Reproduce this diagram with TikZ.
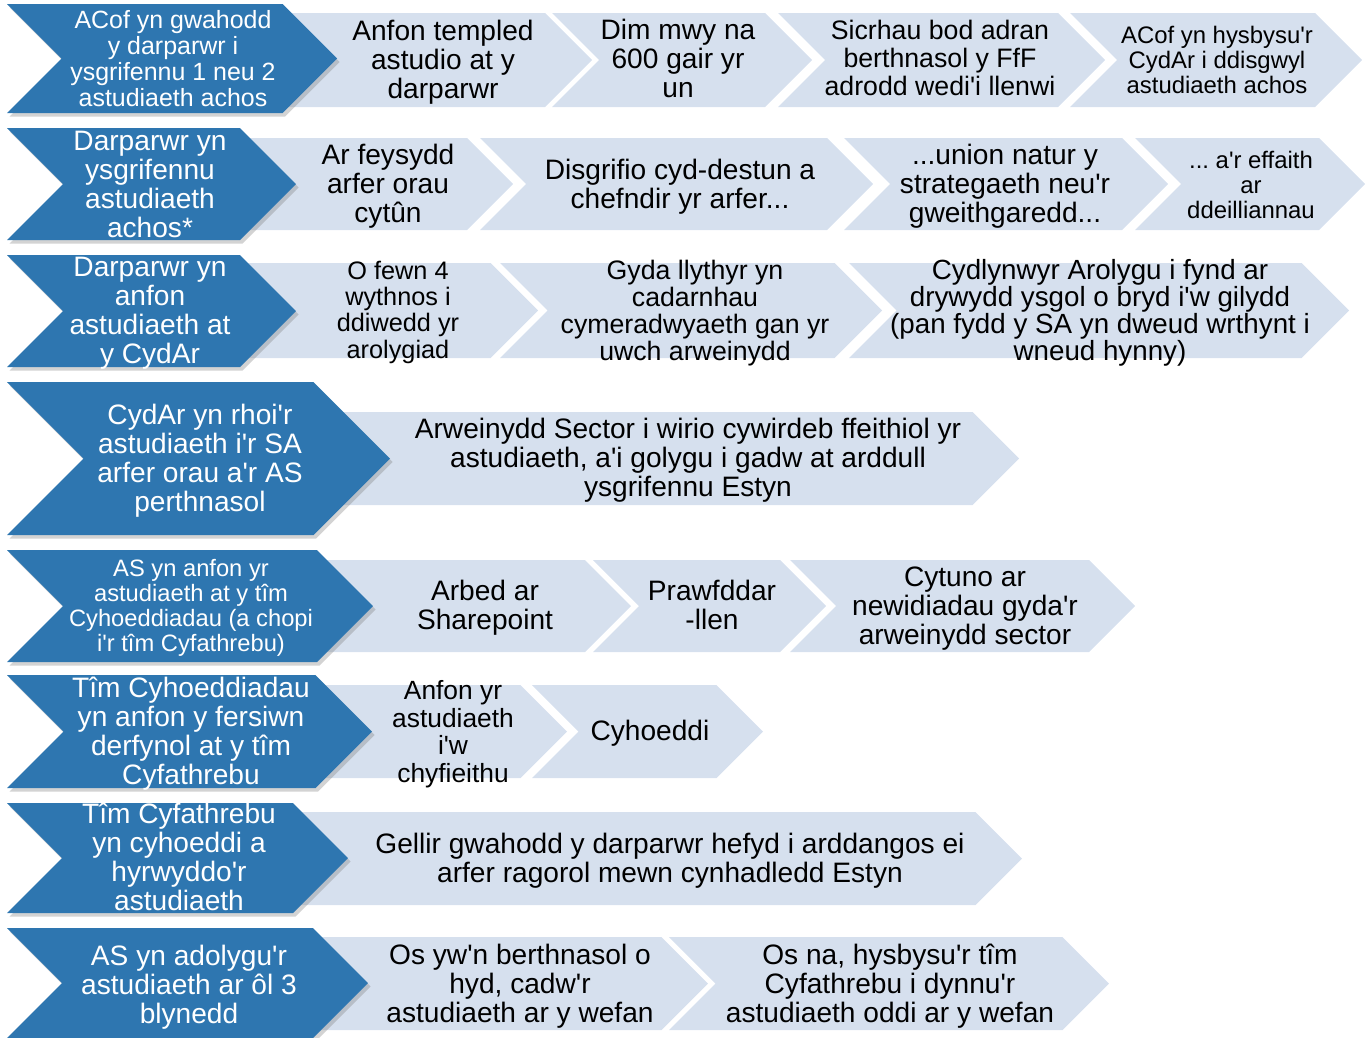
\documentclass[tikz,border=0pt]{standalone}
\usepackage{fontspec}
\setmainfont{Liberation Sans}
\usetikzlibrary{shadows}
\definecolor{stepblue}{RGB}{46,118,176}
\definecolor{steplight}{RGB}{214,224,238}
\newcommand{\ap}{\textquotesingle}
\frenchspacing

\begin{document}
\begin{tikzpicture}[x=0.02cm, y=-0.02cm, bfill/.style={fill=stepblue, drop shadow={shadow xshift=1.5pt, shadow yshift=-2pt, opacity=0.35}}, lfill/.style={fill=steplight}, btxt/.style={text=white, align=center, inner sep=0pt, font=\fontsize{16}{16.5}\selectfont}, ltxt/.style={text=black, align=center, inner sep=0pt, font=\fontsize{16}{16.5}\selectfont}]
\useasboundingbox (0,0) rectangle (1370,1038);
\foreach \xa/\xb/\ya/\yb in {272/592/13/107, 552/812/13/107, 778/1105/13/107, 1070/1362/13/107, 230/513/138/230, 480/873/138/230, 844/1168/138/230, 1135/1365/138/230, 230/538/263/358, 500/882/263/358, 849/1349/263/358, 325/1019/412/505, 310/631/560/652, 593/826/560/652, 790/1135/560/652, 307/567/685/778, 532/763/685/778, 285/1022/812/905, 305/708/937/1030, 669/1109/937/1030}
  \fill[lfill] (\xa,\ya) -- ({\xb-(\yb-\ya)/2},\ya) -- (\xb,{(\ya+\yb)/2}) -- ({\xb-(\yb-\ya)/2},\yb) -- (\xa,\yb) -- ({\xa+(\yb-\ya)/2},{(\ya+\yb)/2}) -- cycle;
\foreach \xb/\ya/\yb in {337/4/113, 296/128/240, 296/255/367, 390/382/535, 373/550/662, 372/675/788, 348/803/913, 368/928/1038}
  \fill[bfill] (7,\ya) -- ({\xb-(\yb-\ya)/2},\ya) -- (\xb,{(\ya+\yb)/2}) -- ({\xb-(\yb-\ya)/2},\yb) -- (7,\yb) -- ({7+(\yb-\ya)/2},{(\ya+\yb)/2}) -- cycle;

\node[btxt, font=\fontsize{14.2}{14.8}\selectfont] (b1) at (173,59) {ACof yn gwahodd\\y darparwr i\\ysgrifennu 1 neu 2\\astudiaeth achos};
\node[btxt] (b2) at (150,184) {Darparwr yn\\ysgrifennu\\astudiaeth\\achos*};
\node[btxt] (b3) at (150,313) {Darparwr yn\\anfon\\astudiaeth at\\y CydAr};
\node[btxt] (b4) at (200,461) {CydAr yn rhoi\ap r\\astudiaeth i\ap r SA\\arfer orau a\ap r AS\\perthnasol};
\node[btxt, font=\fontsize{13.5}{14.2}\selectfont] (b5) at (191,608) {AS yn anfon yr\\astudiaeth at y tîm\\Cyhoeddiadau (a chopi\\i\ap r tîm Cyfathrebu)};
\node[btxt] (b6) at (191,734) {Tîm Cyhoeddiadau\\yn anfon y fersiwn\\derfynol at y tîm\\Cyfathrebu};
\node[btxt] (b7) at (179,857) {Tîm Cyfathrebu\\yn cyhoeddi a\\hyrwyddo\ap r\\astudiaeth};
\node[btxt] (b8) at (189,987) {AS yn adolygu\ap r\\astudiaeth ar ôl 3\\blynedd};

\node[ltxt] (r1a) at (443,62) {Anfon templed\\astudio at y\\darparwr};
\node[ltxt] (r1b) at (678,58) {Dim mwy na\\600 gair yr\\un};
\node[ltxt, font=\fontsize{15.2}{16}\selectfont] (r1c) at (940,58) {Sicrhau bod adran\\berthnasol y FfF\\adrodd wedi\ap i llenwi};
\node[ltxt, font=\fontsize{13.6}{14.2}\selectfont] (r1d) at (1217,60) {ACof yn hysbysu\ap r\\CydAr i ddisgwyl\\astudiaeth achos};
\node[ltxt] (r2a) at (388,186) {Ar feysydd\\arfer orau\\cytûn};
\node[ltxt] (r2b) at (680,187) {Disgrifio cyd-destun a\\chefndir yr arfer...};
\node[ltxt] (r2c) at (1005,186) {...union natur y\\strategaeth neu\ap r\\gweithgaredd...};
\node[ltxt, font=\fontsize{13.6}{14}\selectfont] (r2d) at (1251,185) {... a\ap r effaith\\ar\\ddeilliannau};
\node[ltxt, font=\fontsize{14.4}{15}\selectfont] (r3a) at (398,312) {O fewn 4\\wythnos i\\ddiwedd yr\\arolygiad};
\node[ltxt, font=\fontsize{15.2}{15.4}\selectfont] (r3b) at (695,313) {Gyda llythyr yn\\cadarnhau\\cymeradwyaeth gan yr\\uwch arweinydd};
\node[ltxt, font=\fontsize{15.8}{15.4}\selectfont] (r3c) at (1100,313) {Cydlynwyr Arolygu i fynd ar\\drywydd ysgol o bryd i\ap w gilydd\\(pan fydd y SA yn dweud wrthynt i\\wneud hynny)};
\node[ltxt] (r4a) at (688,460) {Arweinydd Sector i wirio cywirdeb ffeithiol yr\\astudiaeth, a\ap i golygu i gadw at arddull\\ysgrifennu Estyn};
\node[ltxt] (r5a) at (485,608) {Arbed ar\\Sharepoint};
\node[ltxt] (r5b) at (712,605) {Prawfddar\\-llen};
\node[ltxt] (r5c) at (965,609) {Cytuno ar\\newidiadau gyda\ap r\\arweinydd sector};
\node[ltxt, font=\fontsize{15}{15.7}\selectfont] (r6a) at (453,734) {Anfon yr\\astudiaeth\\i\ap w\\chyfieithu};
\node[ltxt] (r6b) at (650,733) {Cyhoeddi};
\node[ltxt] (r7a) at (670,861) {Gellir gwahodd y darparwr hefyd i arddangos ei\\arfer ragorol mewn cynhadledd Estyn};
\node[ltxt] (r8a) at (520,986) {Os yw\ap n berthnasol o\\hyd, cadw\ap r\\astudiaeth ar y wefan};
\node[ltxt] (r8b) at (890,986) {Os na, hysbysu\ap r tîm\\Cyfathrebu i dynnu\ap r\\astudiaeth oddi ar y wefan};
\end{tikzpicture}
\end{document}
